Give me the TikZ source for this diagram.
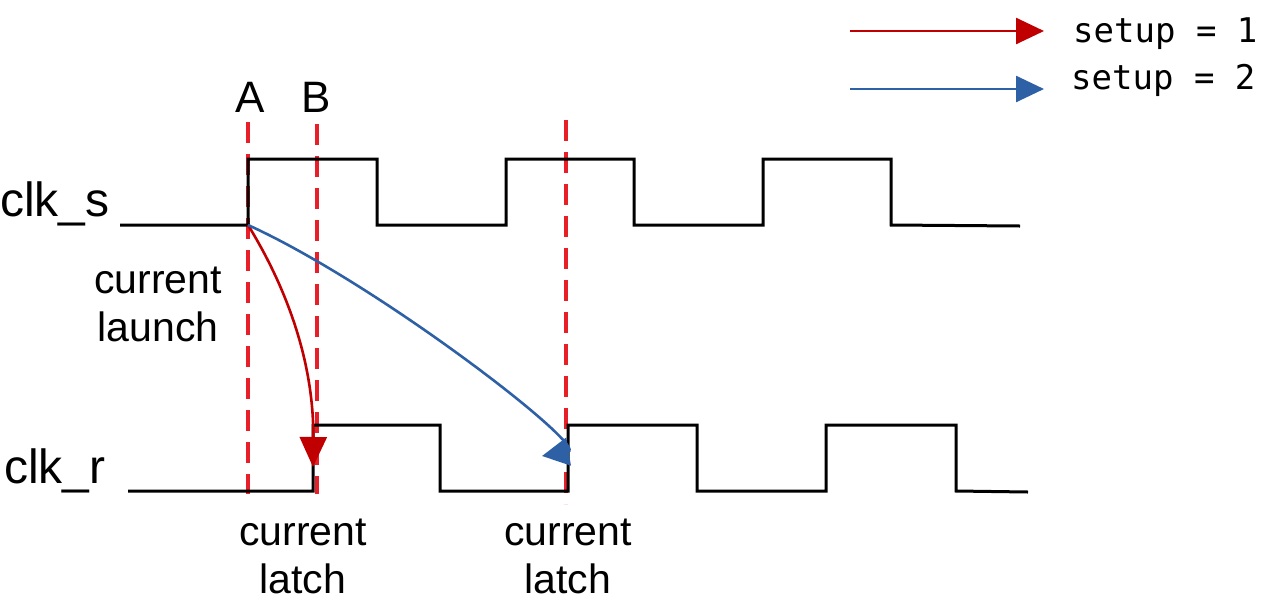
\documentclass[tikz,border=0pt]{standalone}
\usepackage{fontspec}
\setmainfont{Liberation Sans}
\newfontfamily\legendfont{DejaVu Sans Mono}
\usetikzlibrary{arrows.meta}
\definecolor{dred}{RGB}{192,0,0}
\definecolor{lred}{RGB}{232,30,40}
\definecolor{dblue}{RGB}{46,96,166}
\tikzset{
  wave/.style={line width=3pt, black, line join=miter},
  guide/.style={line width=3.2pt, lred, dash pattern=on 21pt off 11pt},
  redarr/.style={line width=2.6pt, dred, -{Triangle[length=30pt,width=27pt]}},
  bluearr/.style={line width=2.6pt, dblue, -{Triangle[length=27pt,width=28pt]}},
  lbl/.style={inner sep=0pt, font=\fontsize{41}{48}\selectfont, align=center},
  sig/.style={inner sep=0pt, font=\fontsize{48}{52}\selectfont},
  hdr/.style={inner sep=0pt, font=\fontsize{44}{48}\selectfont},
  leg/.style={inner sep=0pt, anchor=west, font=\legendfont\fontsize{34}{38}\selectfont}
}
\begin{document}
\begin{tikzpicture}[x=1pt,y=-1pt]
\useasboundingbox (0,0) rectangle (1262,606);
% guides
\coordinate (gA1) at (248,122); \coordinate (gA2) at (248,494);
\coordinate (gB1) at (317,124); \coordinate (gB2) at (317,494);
\coordinate (gC1) at (566,120); \coordinate (gC2) at (566,504);
\draw[guide] (gA1) -- (gA2);
\draw[guide] (gB1) -- (gB2);
\draw[guide] (gC1) -- (gC2);
% waveforms
\draw[wave] (120,225) -- (248,225) -- (248,159) -- (377,159) -- (377,225) -- (506,225) -- (506,159) -- (634,159) -- (634,225) -- (763,225) -- (763,159) -- (891,159) -- (891,225) -- (1020,226);
\draw[wave] (128,491) -- (313,491) -- (313,425) -- (440,425) -- (440,491) -- (568,491) -- (568,425) -- (697,425) -- (697,491) -- (826,491) -- (826,425) -- (956,425) -- (956,491) -- (1028,492);
% named points
\coordinate (launch) at (248,225);
\coordinate (latch1) at (313,467);
\coordinate (latch2) at (542,456);
\draw[redarr] (launch) .. controls (285,285) and (314,360) .. (latch1);
\draw[bluearr] (launch) .. controls (380,285) and (590,448) .. (latch2);
% labels
\node[hdr] (A) at (250,97) {A};
\node[hdr] (B) at (316,97) {B};
\node[sig, anchor=base west] (clks) at (0,216) {clk\_s};
\node[sig, anchor=base west] (clkr) at (4,483) {clk\_r};
\node[lbl] (launchlbl) at (158,304) {current\\launch};
\node[lbl] (latchlbl1) at (303,556) {current\\latch};
\node[lbl] (latchlbl2) at (568,556) {current\\latch};
% legend
\coordinate (l1a) at (850,31); \coordinate (l1b) at (1044,31);
\coordinate (l2a) at (850,89); \coordinate (l2b) at (1044,89);
\draw[line width=2.6pt, dred, -{Triangle[length=28pt,width=26pt]}] (l1a) -- (l1b);
\draw[line width=2.6pt, dblue, -{Triangle[length=28pt,width=26pt]}] (l2a) -- (l2b);
\node[leg] (s1) at (1073,34) {setup = 1};
\node[leg] (s2) at (1071,80) {setup = 2};
\end{tikzpicture}
\end{document}
